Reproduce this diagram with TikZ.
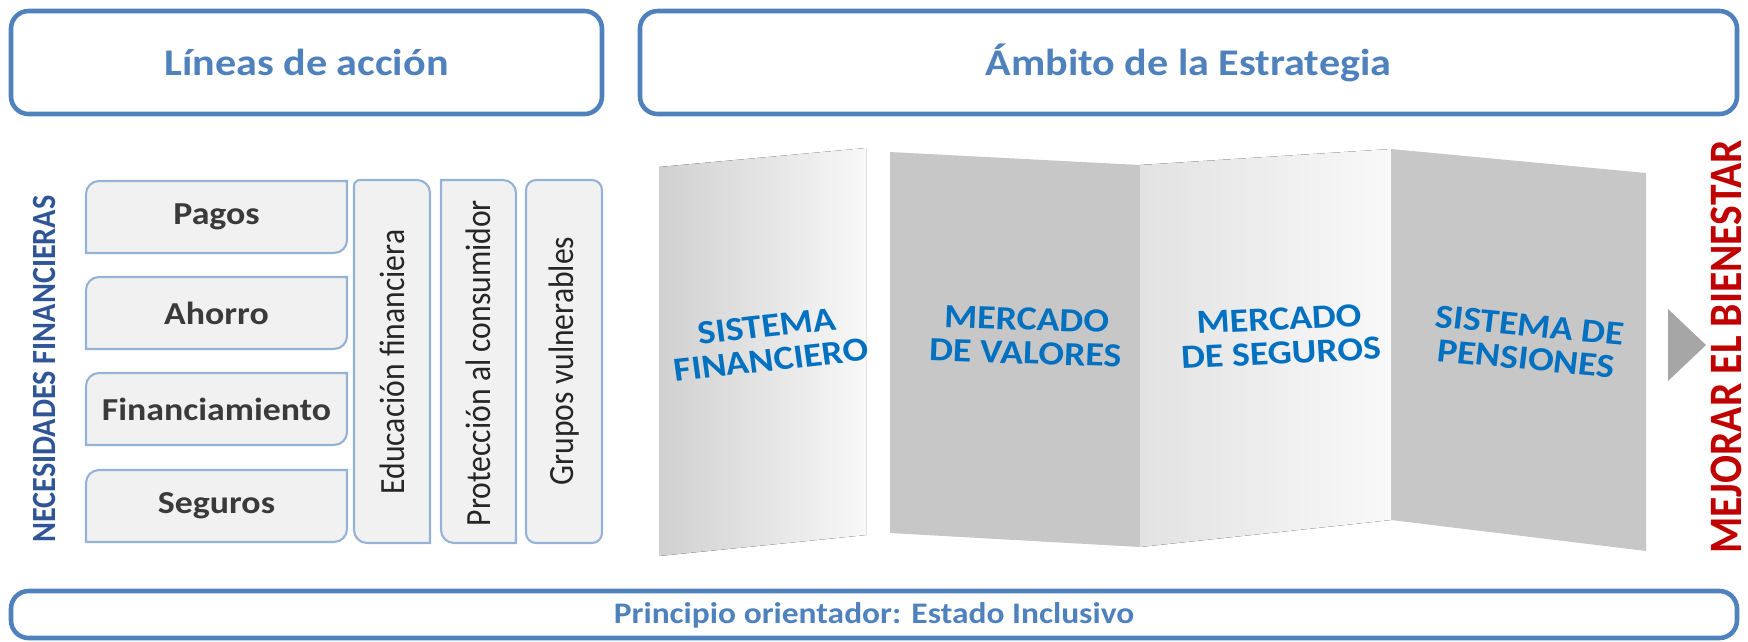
\documentclass[tikz,border=0pt]{standalone}
\usepackage{fontspec}
\setmainfont{Carlito}
\definecolor{titleblue}{HTML}{4F81BD}
\definecolor{boxline}{HTML}{95B3D7}
\definecolor{boxfill}{HTML}{F1F1F1}
\definecolor{needtext}{HTML}{3A3A3A}
\definecolor{verttext}{HTML}{262626}
\definecolor{necblue}{HTML}{2F5597}
\definecolor{panelblue}{HTML}{0070C0}
\definecolor{redtext}{HTML}{C00000}
\definecolor{arrowgray}{HTML}{A6A6A6}
\definecolor{darkpanel}{HTML}{C7C7C7}
\definecolor{pOneL}{HTML}{D0D0D0}
\definecolor{pOneR}{HTML}{F8F8F8}
\definecolor{pThreeL}{HTML}{E2E2E2}
\definecolor{pThreeR}{HTML}{F9F9F9}
\newcommand\cornerbox[9]{\path[#1] ({#2+#6},#3) -- ({#4-#7},#3) .. controls ({#4-0.448*#7},#3) and (#4,{#3+0.448*#7}) .. (#4,{#3+#7}) -- (#4,{#5-#8}) .. controls (#4,{#5-0.448*#8}) and ({#4-0.448*#8},#5) .. ({#4-#8},#5) -- ({#2+#9},#5) .. controls ({#2+0.448*#9},#5) and (#2,{#5-0.448*#9}) .. (#2,{#5-#9}) -- (#2,{#3+#6}) .. controls (#2,{#3+0.448*#6}) and ({#2+0.448*#6},#3) .. ({#2+#6},#3) -- cycle;}
\begin{document}
\begin{tikzpicture}[x=0.01cm,y=-0.01cm,
  titlebox/.style={draw=titleblue,line width=1.3pt,rounded corners=5pt,fill=white},
  needbox/.style={draw=boxline,line width=0.6pt,fill=boxfill},
  txt/.style={inner sep=0pt,xscale=1.12},
  titletxt/.style={txt,text=titleblue,font=\bfseries\fontsize{10.7}{12}\selectfont},
  needtxt/.style={txt,text=needtext,font=\bfseries\fontsize{9.1}{11}\selectfont},
  verttxt/.style={txt,rotate=90,text=verttext,font=\fontsize{9}{11}\selectfont},
  paneltxt/.style={txt,text=panelblue,align=center,font=\bfseries\fontsize{9.6}{9.6}\selectfont}]
\useasboundingbox (0,0) rectangle (1748,641);
% title boxes
\path[titlebox] (11,11) rectangle (602,114);
\node[titletxt] (lineas) at (306.5,62.5) {Líneas de acción};
\path[titlebox] (640,11) rectangle (1737,114);
\node[titletxt] (ambito) at (1188.5,62.5) {Ámbito de la Estrategia};
% bottom box
\path[titlebox] (11,591) rectangle (1737,638);
\node[titletxt,font=\bfseries\fontsize{8.5}{10}\selectfont] (principio) at (874,615) {Principio orientador: Estado Inclusivo};
% left label
\node[txt,rotate=90,text=necblue,font=\bfseries\fontsize{8.6}{10}\selectfont] (necesidades) at (45,369) {NECESIDADES FINANCIERAS};
% need boxes
\cornerbox{needbox}{86}{181}{347}{253}{13}{0}{13}{0}
\node[needtxt] (pagos) at (216.5,217) {Pagos};
\cornerbox{needbox}{86}{277}{347}{349}{13}{0}{13}{0}
\node[needtxt] (ahorro) at (216.5,313) {Ahorro};
\cornerbox{needbox}{86}{373}{347}{445}{13}{0}{13}{0}
\node[needtxt] (financ) at (216.5,409) {Financiamiento};
\cornerbox{needbox}{86}{470}{347}{542}{13}{0}{13}{0}
\node[needtxt] (seguros) at (216.5,506) {Seguros};
% vertical boxes
\cornerbox{needbox}{354}{180}{430}{543}{6}{13}{0}{13}
\node[verttxt] (educ) at (392,362) {Educación financiera};
\cornerbox{needbox}{441}{180}{516}{543}{0}{13}{0}{13}
\node[verttxt] (prot) at (478,363) {Protección al consumidor};
\cornerbox{needbox}{526}{180}{602}{543}{10}{10}{10}{10}
\node[verttxt] (grupos) at (564,361) {Grupos vulnerables};
% folded panels
\fill[left color=pOneL,right color=pOneR] (659,167) -- (866,148) -- (866,535) -- (659,556) -- cycle;
\fill[darkpanel] (890,152) -- (1140,165) -- (1140,547) -- (890,533) -- cycle;
\fill[left color=pThreeL,right color=pThreeR] (1140,165) -- (1391,149) -- (1391,520) -- (1140,547) -- cycle;
\fill[darkpanel] (1391,149) -- (1646,173) -- (1646,551) -- (1391,520) -- cycle;
\node[paneltxt,rotate=7] (sisfin) at (769,343) {SISTEMA\\FINANCIERO};
\node[paneltxt,rotate=-2] (mercval) at (1026,336) {MERCADO\\DE VALORES};
\node[paneltxt,rotate=3] (mercseg) at (1280,336) {MERCADO\\DE SEGUROS};
\node[paneltxt,rotate=-6] (sispen) at (1528,342) {SISTEMA DE\\PENSIONES};
% arrow
\fill[arrowgray] (1668,309) -- (1706,345) -- (1668,381) -- cycle;
\node[txt,rotate=90,text=redtext,font=\bfseries\fontsize{11.8}{13}\selectfont] (mejorar) at (1726,347) {MEJORAR EL BIENESTAR};
\end{tikzpicture}
\end{document}
